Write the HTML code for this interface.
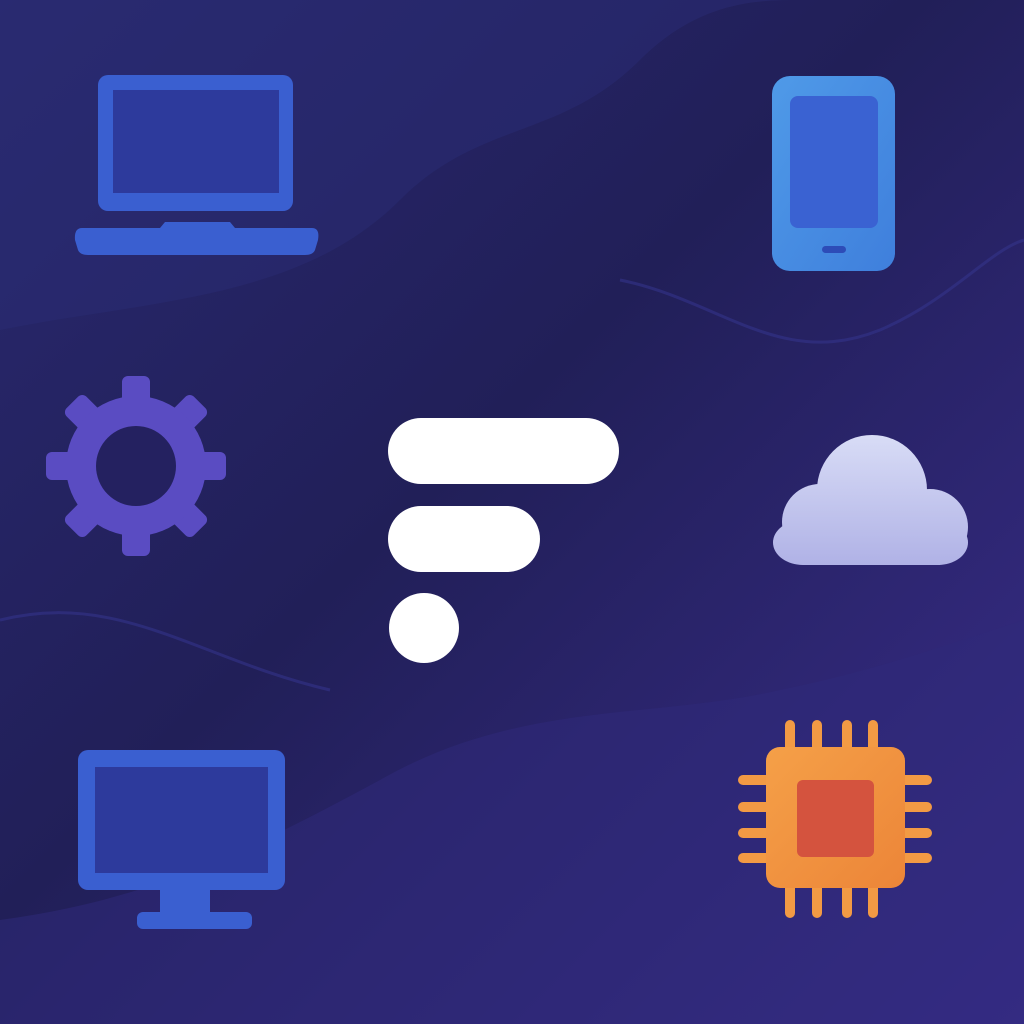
<!DOCTYPE html>
<html><head><meta charset="utf-8"><style>html,body{margin:0;padding:0;background:#22205a}svg{display:block}</style></head>
<body>
<svg width="1024" height="1024" viewBox="0 0 1024 1024" xmlns="http://www.w3.org/2000/svg">
<defs>
<linearGradient id="bg" x1="0" y1="0" x2="1" y2="1">
<stop offset="0" stop-color="#29296f"/><stop offset="0.45" stop-color="#211f58"/><stop offset="1" stop-color="#3a2d8c"/>
</linearGradient>
<linearGradient id="ph" x1="0" y1="0" x2="1" y2="1"><stop offset="0" stop-color="#4f9ae8"/><stop offset="1" stop-color="#3f7fdc"/></linearGradient>
<linearGradient id="cl" x1="0" y1="435" x2="0" y2="565" gradientUnits="userSpaceOnUse"><stop offset="0" stop-color="#d8dcf6"/><stop offset="1" stop-color="#b0b2e6"/></linearGradient>
<linearGradient id="ch" x1="0" y1="0" x2="1" y2="1"><stop offset="0" stop-color="#f5a048"/><stop offset="1" stop-color="#ec8538"/></linearGradient>
</defs>
<rect width="1024" height="1024" fill="url(#bg)"/>
<path d="M0 330 C150 300 300 300 400 200 C480 120 560 140 640 60 C700 0 760 0 800 0 L1024 0 L1024 0 L0 0 Z" fill="#2a2b72" opacity="0.55"/>
<path d="M0 1024 L0 920 C150 900 250 850 380 780 C520 700 650 720 780 690 C880 670 960 640 1024 620 L1024 1024 Z" fill="#30297a" opacity="0.55"/>
<path d="M0 620 C120 590 200 660 330 690" stroke="#34348a" stroke-width="3" fill="none" opacity="0.6"/>
<path d="M620 280 C720 300 780 370 880 330 C950 300 990 250 1024 240" stroke="#34348a" stroke-width="3" fill="none" opacity="0.6"/>
<!-- laptop -->
<rect x="98" y="75" width="195" height="136" rx="10" fill="#3a5fd0"/>
<rect x="113" y="90" width="166" height="103" fill="#2d3a9c"/>
<path d="M82 228 H160 L165 222 H230 L235 228 H312 Q320 228 318 240 L315 250 Q313 255 305 255 H88 Q80 255 78 250 L75 240 Q74 228 82 228 Z" fill="#3a5fd0"/>
<!-- phone -->
<rect x="772" y="76" width="123" height="195" rx="18" fill="url(#ph)"/>
<rect x="790" y="96" width="88" height="132" rx="8" fill="#3a62d2"/>
<rect x="822" y="246" width="24" height="7" rx="3.5" fill="#2d4cb8"/>
<!-- gear -->
<g transform="translate(136,466)" fill="#5a4cc2">
<g id="t"><rect x="-14" y="-90" width="28" height="40" rx="6"/></g>
<use href="#t" transform="rotate(45)"/><use href="#t" transform="rotate(90)"/><use href="#t" transform="rotate(135)"/>
<use href="#t" transform="rotate(180)"/><use href="#t" transform="rotate(225)"/><use href="#t" transform="rotate(270)"/><use href="#t" transform="rotate(315)"/>
<circle r="70"/>
<circle r="40" fill="#242160"/>
</g>
<!-- logo -->
<rect x="388" y="418" width="231" height="66" rx="33" fill="#fff"/>
<rect x="388" y="506" width="152" height="66" rx="33" fill="#fff"/>
<circle cx="424" cy="628" r="35" fill="#fff"/>
<!-- cloud -->
<g fill="url(#cl)">
<circle cx="820" cy="522" r="38"/>
<circle cx="872" cy="490" r="55"/>
<circle cx="930" cy="527" r="38"/>
<rect x="773" y="520" width="195" height="45" rx="30"/>
<rect x="810" y="510" width="130" height="55"/>
</g>
<!-- monitor -->
<rect x="78" y="750" width="207" height="140" rx="10" fill="#3a5fd0"/>
<rect x="95" y="767" width="173" height="106" fill="#2d3a9c"/>
<rect x="160" y="888" width="50" height="24" fill="#3a5fd0"/>
<rect x="137" y="912" width="115" height="17" rx="6" fill="#3a5fd0"/>
<!-- chip -->
<g fill="#f29a44">
<rect x="785" y="720" width="10" height="40" rx="5"/><rect x="812" y="720" width="10" height="40" rx="5"/><rect x="842" y="720" width="10" height="40" rx="5"/><rect x="868" y="720" width="10" height="40" rx="5"/>
<rect x="785" y="878" width="10" height="40" rx="5"/><rect x="812" y="878" width="10" height="40" rx="5"/><rect x="842" y="878" width="10" height="40" rx="5"/><rect x="868" y="878" width="10" height="40" rx="5"/>
<rect x="738" y="775" width="40" height="10" rx="5"/><rect x="738" y="802" width="40" height="10" rx="5"/><rect x="738" y="828" width="40" height="10" rx="5"/><rect x="738" y="853" width="40" height="10" rx="5"/>
<rect x="892" y="775" width="40" height="10" rx="5"/><rect x="892" y="802" width="40" height="10" rx="5"/><rect x="892" y="828" width="40" height="10" rx="5"/><rect x="892" y="853" width="40" height="10" rx="5"/>
</g>
<rect x="766" y="747" width="139" height="141" rx="14" fill="url(#ch)"/>
<rect x="797" y="780" width="77" height="77" rx="6" fill="#d4533e"/>
</svg>
</body></html>
